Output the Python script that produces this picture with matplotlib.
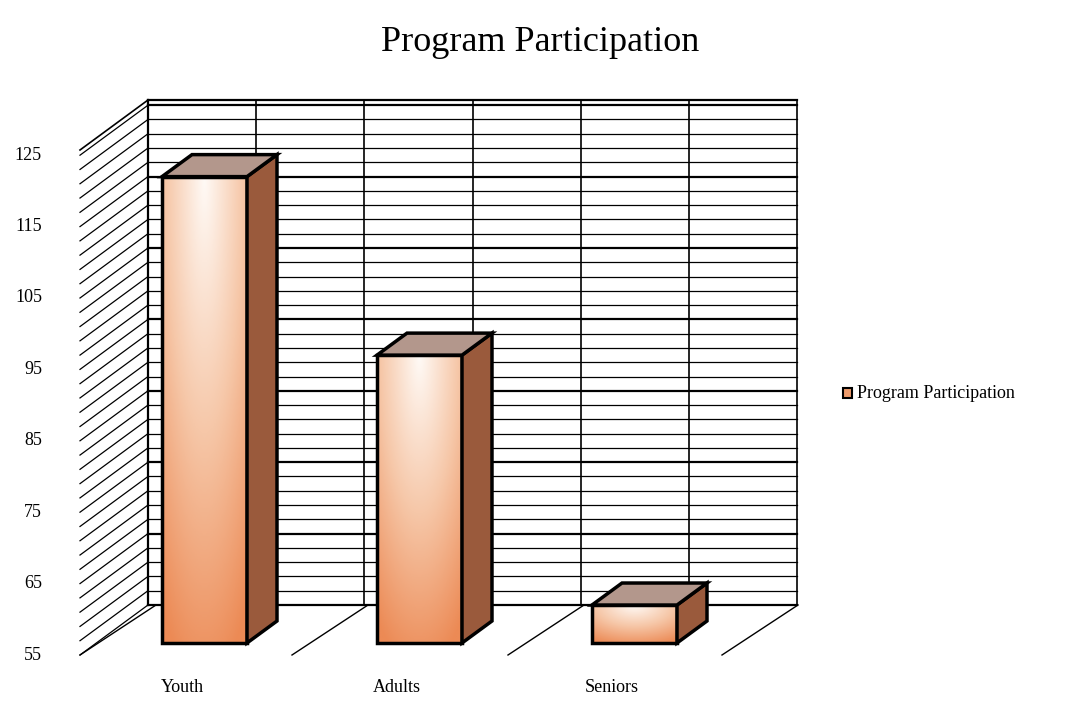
import numpy as np
import matplotlib.pyplot as plt
from matplotlib.patches import Polygon, Rectangle
from matplotlib.colors import LinearSegmentedColormap

categories = ["Youth", "Adults", "Seniors"]
values = [122, 97, 62]
tick_values = [55, 65, 75, 85, 95, 105, 115, 125]

plt.rcParams["font.family"] = "Liberation Serif"

fig = plt.figure(figsize=(10.8, 7.2), dpi=100)
ax = fig.add_axes([0, 0, 1, 1])
# x in pixels, y in data units (55 at the front floor edge)
PX = 7.14
ax.set_xlim(0, 1080)
ax.set_ylim(55 - 65 / PX, 55 + 655 / PX)
ax.axis("off")

base = 55
dx, dyv = 68, 50 / PX          # depth of the box
wall_l, wall_r = 148, 797
wall_top = base + 555 / PX

# back wall minor/major grid, left wall lines
for v in np.arange(base, wall_top - dyv + 0.01, 2):
    lw = 1.6 if (v - base) % 10 == 0 else 0.9
    ax.plot([wall_l, wall_r], [v + dyv, v + dyv], color="black", lw=lw)
    ax.plot([wall_l - dx, wall_l], [v, v + dyv], color="black", lw=0.9)
ax.plot([wall_l, wall_r], [wall_top, wall_top], color="black", lw=1.6)
for x in np.linspace(wall_l, wall_r, 7):
    ax.plot([x, x], [base + dyv, wall_top], color="black", lw=1.2)
ax.plot([wall_l, wall_l], [base + dyv, wall_top], color="black", lw=1.6)
ax.plot([wall_l, wall_l - dx], [wall_top, wall_top - dyv], color="black", lw=1.2)
# floor lines
for x in [80, 292, 508, 722]:
    ax.plot([x, x + dx + 8], [base, base + dyv], color="black", lw=1.0)

cmap = LinearSegmentedColormap.from_list("bar", ["#fffaf6", "#f6c7a8", "#ec8a55"])
bw, bdx, bdy = 85, 30, 22 / PX
y0 = base + 12 / PX
for i, (cat, val) in enumerate(zip(categories, values)):
    x0 = 162 + i * 215
    yy, xx = np.mgrid[0:1:200j, 0:1:100j]
    r = np.sqrt(((xx - 0.5) * 1.2) ** 2 + ((1 - yy) * 1.0) ** 2)
    im = ax.imshow(r, cmap=cmap, extent=[x0, x0 + bw, y0, val], origin="lower",
                   aspect="auto", vmin=0, vmax=1.1, zorder=3)
    front = Rectangle((x0, y0), bw, val - y0, fill=False, ec="black", lw=2.5, zorder=4)
    ax.add_patch(front)
    im.set_clip_path(front)
    side = Polygon([[x0 + bw, y0], [x0 + bw + bdx, y0 + bdy],
                    [x0 + bw + bdx, val + bdy], [x0 + bw, val]],
                   fc="#9a5a3c", ec="black", lw=2.5, zorder=4)
    top = Polygon([[x0, val], [x0 + bw, val], [x0 + bw + bdx, val + bdy],
                   [x0 + bdx, val + bdy]], fc="#b3978c", ec="black", lw=2.5, zorder=4)
    ax.add_patch(side)
    ax.add_patch(top)
    ax.text(x0 + 20, base - 32 / PX, cat, ha="center", va="center", fontsize=13)

for t in tick_values:
    ax.text(42, t, str(t), ha="right", va="center", fontsize=13)

ax.text(540, base + 612 / PX, "Program Participation", ha="center", va="center",
        fontsize=26)
ax.add_patch(Rectangle((843, base + 257 / PX), 9, 10 / PX, fc="#ee9c6c",
                       ec="black", lw=1.5))
ax.text(857, base + 262 / PX, "Program Participation", ha="left", va="center",
        fontsize=13)

fig.savefig("out.png", dpi=100)
